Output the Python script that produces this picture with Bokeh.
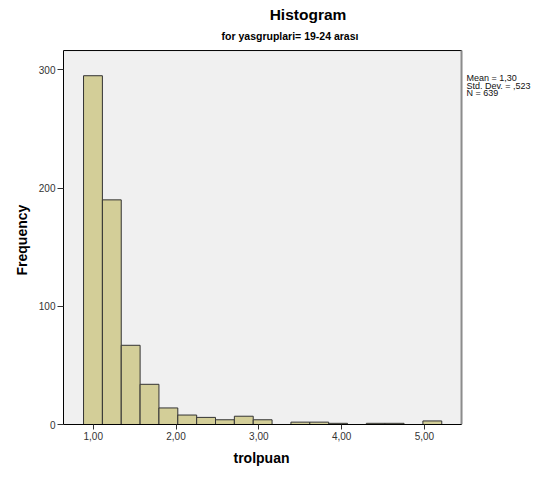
from bokeh.plotting import figure
from bokeh.models import ColumnDataSource, FixedTicker, Label, Range1d, Title
from bokeh.embed import file_html
from bokeh.resources import INLINE

# ---- data ----
title_text = "Histogram"
subtitle_text = "for yasgruplari= 19-24 arası"
x_label = "trolpuan"
y_label = "Frequency"
stats_lines = ["Mean = 1,30", "Std. Dev. = ,523", "N = 639"]

bin_start = 0.883
bin_width = 0.2277
counts = [295, 190, 67, 34, 14, 8, 6, 4, 7, 4, 0, 2, 2, 1, 0, 1, 1, 0, 3]

x_ticks = [1, 2, 3, 4, 5]
x_tick_labels = ["1,00", "2,00", "3,00", "4,00", "5,00"]
y_ticks = [0, 100, 200, 300]
y_tick_labels = ["0", "100", "200", "300"]

# ---- build ----
lefts = [bin_start + i * bin_width for i in range(len(counts))]
rights = [l + bin_width for l in lefts]
src = ColumnDataSource(dict(left=lefts, right=rights, top=counts, bottom=[0] * len(counts)))

FONT = "Liberation Sans"
# plot-area extent in data units
X0, X1 = 0.641, 5.448
Y0, Y1 = 0, 316.3
PX_X = 82.8    # pixels per x unit
PX_Y = 1.1823  # pixels per y unit
W, H = 547, 474
BORDER_L, BORDER_B = 63, 50
FRAME_W, FRAME_H = W - BORDER_L, H - BORDER_B


def ux(px):  # horizontal pixel offset from plot-area left -> data x
    return X0 + px / PX_X


def uy(py):  # pixels above the x axis -> data y
    return Y0 + py / PX_Y


p = figure(width=W, height=H, output_backend="svg", toolbar_location=None,
           x_range=Range1d(X0, ux(FRAME_W)), y_range=Range1d(Y0, uy(FRAME_H)),
           min_border_left=BORDER_L, min_border_right=0, min_border_top=0,
           min_border_bottom=BORDER_B)

p.background_fill_color = "white"
p.border_fill_color = "white"
p.outline_line_color = None
p.grid.visible = False

# plot area box
p.quad(left=[X0], right=[X1], bottom=[Y0], top=[Y1],
       fill_color="#F0F0F0", line_color="black", line_width=1)

p.quad(left="left", right="right", top="top", bottom="bottom", source=src,
       fill_color="#D3CE98", line_color="#333333", line_width=1)

# grey right edge of plot area
p.segment(x0=[X1], x1=[X1], y0=[Y0], y1=[Y1], line_color="#8C8C8C", line_width=2)

for ax, ticks, labels in ((p.xaxis[0], x_ticks, x_tick_labels), (p.yaxis[0], y_ticks, y_tick_labels)):
    ax.ticker = FixedTicker(ticks=ticks)
    ax.major_label_overrides = {t: l for t, l in zip(ticks, labels)}
    ax.minor_tick_line_color = None
    ax.major_tick_in = 0
    ax.axis_line_color = "black"
    ax.major_tick_line_color = "#333333"
    ax.major_label_text_font = FONT
    ax.major_label_text_font_size = "10px"
    ax.major_label_text_color = "#333333"

p.xaxis.bounds = (X0, X1)
p.yaxis.bounds = (Y0, Y1)
p.xaxis.major_tick_out = 5
p.yaxis.major_tick_out = 6
p.xaxis.major_label_standoff = 2
p.yaxis.major_label_standoff = 2

# axis titles, centred on the plot area rather than on the (wider) frame
p.add_layout(Title(text=x_label, text_font=FONT, text_font_size="14px", text_font_style="bold",
                   text_color="black", align="left", offset=170, standoff=10), "below")
p.add_layout(Title(text=y_label, text_font=FONT, text_font_size="14px", text_font_style="bold",
                   text_color="black", align="left", offset=149, standoff=11), "left")

# titles (centred text, baseline given in pixels above the x axis)
p.add_layout(Label(x=ux(244.5), y=uy(410.3), text=title_text, text_font=FONT,
                   text_font_size="15.5px", text_font_style="bold", text_color="black",
                   text_align="center", text_baseline="alphabetic"))
p.add_layout(Label(x=ux(226.5), y=uy(388.7), text=subtitle_text, text_font=FONT,
                   text_font_size="10.5px", text_font_style="bold", text_color="black",
                   text_align="center", text_baseline="alphabetic"))

# statistics text just right of the plot area
for i, line in enumerate(stats_lines):
    p.add_layout(Label(x=X1 + 0.06, y=uy(346.7 - 7.8 * i), text=line,
                       text_font=FONT, text_font_size="9px",
                       text_align="left", text_baseline="alphabetic", text_color="#111111"))

open("out.html", "w").write(file_html(p, INLINE))
